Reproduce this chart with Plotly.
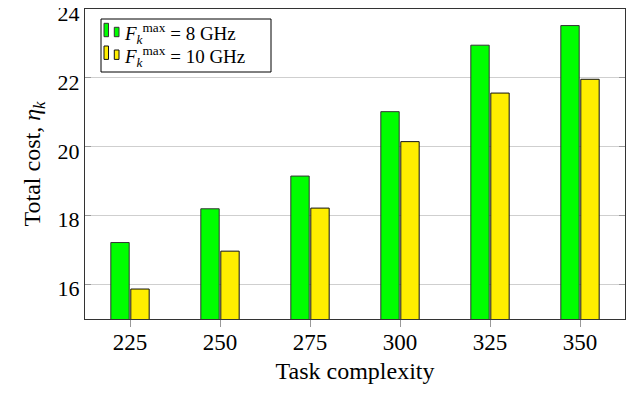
import plotly.graph_objects as go

complexity = [225, 250, 275, 300, 325, 350]
cost_8ghz = [17.22, 18.2, 19.15, 21.02, 22.95, 23.52]
cost_10ghz = [15.87, 16.97, 18.22, 20.15, 21.56, 21.96]
series_names = ["<i>F</i><sub><i>k</i></sub><sup>max</sup> = 8 GHz",
                "<i>F</i><sub><i>k</i></sub><sup>max</sup> = 10 GHz"]
series_colors = ["#00FF00", "#FFEE00"]
series_edges = ["#333333", "#111111"]
y_ticks = [16, 18, 20, 22, 24]

FONT = "'Liberation Serif', 'Times New Roman', serif"

W, H = 631, 388
ML, MR, MT, MB = 77, 14, 1, 77
PW, PH = W - ML - MR, H - MT - MB


def px(xp):  # page pixel (reference frame, 8px body offset) -> paper x
    return (xp - 8 - ML) / PW


def py(yp):
    return 1 - (yp - 8 - MT) / PH


fig = go.Figure()
for name, vals, col, edge in zip(series_names, [cost_8ghz, cost_10ghz], series_colors, series_edges):
    fig.add_trace(go.Bar(x=complexity, y=vals, name=name, showlegend=False,
                         marker=dict(color=col, line=dict(color=edge, width=1))))

# legend drawn like the pgfplots legend (two small bar glyphs per entry)
shapes = [dict(type="rect", xref="paper", yref="paper", x0=px(101), x1=px(271), y0=py(72), y1=py(19),
               line=dict(color="black", width=1), fillcolor="white", layer="above")]
annotations = []
for i, (name, col, edge) in enumerate(zip(series_names, series_colors, series_edges)):
    dy = i * 22.7
    shapes.append(dict(type="rect", xref="paper", yref="paper", x0=px(104), x1=px(108.5),
                       y0=py(36.7 + dy), y1=py(23.3 + dy), fillcolor=col,
                       line=dict(color=edge, width=1), layer="above"))
    shapes.append(dict(type="rect", xref="paper", yref="paper", x0=px(114.3), x1=px(119),
                       y0=py(36.7 + dy), y1=py(27.3 + dy), fillcolor=col,
                       line=dict(color=edge, width=1), layer="above"))
    annotations.append(dict(xref="paper", yref="paper", x=px(122), y=py(33.5 + dy), text=name,
                            showarrow=False, xanchor="left", yanchor="middle",
                            font=dict(family=FONT, size=19, color="black")))

fig.update_layout(
    width=W, height=H,
    margin=dict(l=ML, r=MR, t=MT, b=MB, autoexpand=False),
    paper_bgcolor="white", plot_bgcolor="white",
    barmode="group", bargap=0.556, bargroupgap=0.08,
    font=dict(family=FONT, size=22, color="black"),
    showlegend=False,
    shapes=shapes, annotations=annotations,
    xaxis=dict(range=[212.5, 362.5], tickvals=complexity, ticktext=[str(c) for c in complexity],
               showgrid=False, zeroline=False, showline=True, linecolor="#333333", linewidth=1,
               mirror="ticks", ticks="outside", ticklen=7, tickcolor="#999999", automargin=False,
               tickfont=dict(family=FONT, size=23), ticklabeloverflow="allow", ticklabelstandoff=-5,
               title=dict(text="Task complexity", standoff=8, font=dict(family=FONT, size=24))),
    yaxis=dict(range=[15, 24.001], tickvals=y_ticks, showgrid=True, gridcolor="#cfcfcf", gridwidth=1,
               zeroline=False, showline=True, linecolor="#333333", linewidth=1,
               mirror="ticks", ticks="inside", ticklen=6, tickcolor="#999999", automargin=False,
               tickfont=dict(family=FONT, size=22), ticklabeloverflow="allow", ticklabelshift=4,
               title=dict(text="Total cost, <i>η</i><sub><i>k</i></sub>", standoff=10,
                          font=dict(family=FONT, size=24))),
)

fig.write_html("out.html")
